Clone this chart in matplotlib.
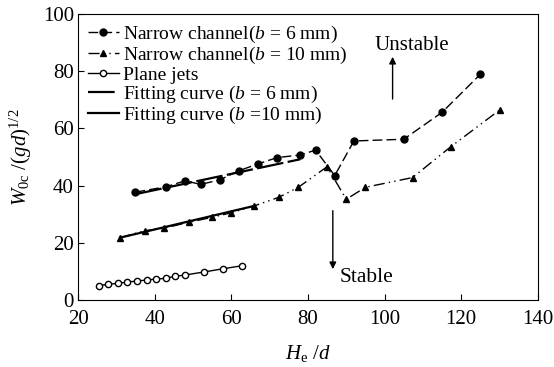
import matplotlib
matplotlib.use('Agg')
from matplotlib import pyplot as plt, rcParams

rcParams['font.family'] = ['Liberation Serif', 'DejaVu Serif']
rcParams['mathtext.fontset'] = 'custom'
rcParams['mathtext.rm'] = 'Liberation Serif'
rcParams['mathtext.it'] = 'Liberation Serif:italic'

# 数据
x_b6 = [35, 43, 48, 52, 57, 62, 67, 72, 78, 82, 87, 92, 105, 115, 125]
y_b6 = [37.7, 39.6, 41.7, 40.4, 42.0, 45.2, 47.6, 49.8, 50.7, 52.4, 43.5, 55.6, 56.2, 65.6, 78.9]

x_b10 = [31, 37.4, 42.4, 49, 55, 60, 66, 72.4, 77.5, 85, 90, 95, 107.3, 117.3, 130]
y_b10 = [21.8, 24.2, 25.1, 27.2, 28.9, 30.5, 32.9, 35.9, 39.4, 46.6, 35.2, 39.4, 42.8, 53.6, 66.4]

x_plane = [25.4, 27.9, 30.4, 32.9, 35.4, 37.9, 40.4, 42.9, 45.4, 47.8, 52.9, 57.8, 62.9]
y_plane = [5.0, 5.5, 5.8, 6.3, 6.6, 7.0, 7.3, 7.6, 8.3, 8.7, 9.8, 10.9, 12.0]

x_fit6 = [35, 78]
y_fit6 = [37.0, 49.2]
x_fit10 = [31, 66]
y_fit10 = [21.8, 32.9]

fig = plt.figure(figsize=(5.54, 3.67), dpi=100)
ax = fig.add_axes([0.1408, 0.1826, 0.830, 0.7793])

ax.plot(x_b6, y_b6, color='black', lw=1, ls=(0, (7, 3)), marker='o', ms=5,
        label='Narrow channel($b$ = 6 mm)')
ax.plot(x_b10, y_b10, color='black', lw=1, ls=(0, (8, 3, 1, 3, 1, 3)), marker='^', ms=5,
        label='Narrow channel($b$ = 10 mm)')
ax.plot(x_plane, y_plane, color='black', lw=1, marker='o', ms=4.5, mfc='white', mew=1,
        label='Plane jets')
ax.plot(x_fit6, y_fit6, color='black', lw=1.6, ls=(0, (12, 2)),
        label='Fitting curve ($b$ = 6 mm)')
ax.plot(x_fit10, y_fit10, color='black', lw=1.6,
        label='Fitting curve ($b$ =10 mm)')

# 稳定/不稳定标注
ax.annotate('', xy=(102.1, 86), xytext=(102.1, 69.3),
            arrowprops=dict(arrowstyle='-|>', color='black', lw=1, mutation_scale=10))
ax.text(97.3, 89, 'Unstable', fontsize=15, va='center', ha='left')
ax.annotate('', xy=(86.5, 9.8), xytext=(86.5, 32.2),
            arrowprops=dict(arrowstyle='-|>', color='black', lw=1, mutation_scale=10))
ax.text(88.4, 7.7, 'Stable', fontsize=15.5, va='center', ha='left')

ax.set_xlim(20, 140)
ax.set_ylim(0, 100)
ax.set_xticks(range(20, 141, 20))
ax.set_yticks(range(0, 101, 20))
ax.tick_params(direction='in', length=4, labelsize=15)
ax.tick_params(axis='x', pad=7)
ax.tick_params(axis='y', pad=3)
ax.set_xlabel('$H_\\mathrm{e}$ /$d$', fontsize=15, labelpad=10)
ax.set_ylabel('$W_\\mathrm{0c}$ /$(gd)^{1/2}$', fontsize=15, labelpad=6)

ax.legend(loc='upper left', frameon=False, fontsize=14, handlelength=1.6,
          handletextpad=0.2, labelspacing=0.0, borderaxespad=0.2,
          borderpad=0.3)

plt.savefig('out.png', dpi=100)
